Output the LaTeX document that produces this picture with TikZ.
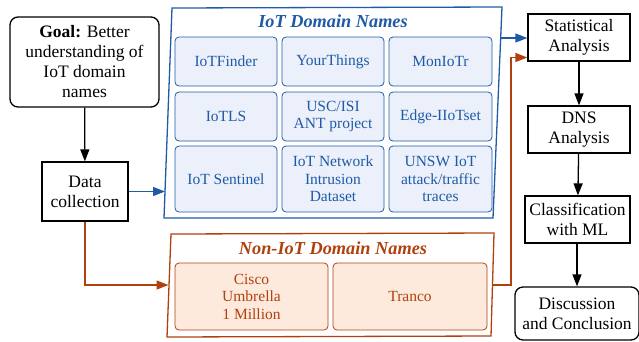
\documentclass[tikz,border=0pt]{standalone}
\usepackage{fontspec}
\setmainfont{Liberation Serif}
\usetikzlibrary{arrows.meta,calc}
\definecolor{iotblue}{HTML}{1F5AA6}
\definecolor{iotfill}{HTML}{EBF0FB}
\definecolor{nonorange}{HTML}{B0400E}
\definecolor{nonfill}{HTML}{FDEADC}
\begin{document}
\begin{tikzpicture}[x=1pt,y=-1pt,
  blk/.style={draw=black,line width=1.3pt,align=center,inner sep=0pt,font=\fontsize{17.5}{20}\selectfont},
  ibox/.style={draw=iotblue,fill=iotfill,line width=0.8pt,rounded corners=4pt,align=center,inner sep=0pt,text=iotblue,font=\fontsize{15.5}{17.5}\selectfont},
  obox/.style={draw=nonorange,fill=nonfill,line width=0.8pt,rounded corners=4pt,align=center,inner sep=0pt,text=nonorange,font=\fontsize{15.5}{17.5}\selectfont},
  ttl/.style={font=\fontsize{18.3}{20}\selectfont\bfseries\itshape},
  arr/.style={line width=1.3pt,-{Triangle[length=12pt,width=9pt]}},
]
\useasboundingbox (0,0) rectangle (639,341);

% left column
\node[blk,rounded corners=8pt,minimum width=149pt,minimum height=90pt] (goal) at (84.5,62) {\textbf{Goal:} Better\\understanding of\\IoT domain\\names};
\node[blk,minimum width=86pt,minimum height=59pt] (data) at (85,191.5) {Data\\collection};

% blue container
\coordinate (bTL) at (172,8);
\coordinate (bTR) at (502,7);
\coordinate (bBR) at (493,218);
\coordinate (bBL) at (164,218);
\draw[iotblue,line width=1.3pt] (bTL) -- (bTR) -- (bBR) -- (bBL) -- cycle;
\node[ttl,text=iotblue] (btitle) at (333,21) {IoT Domain Names};
\node[ibox,minimum width=102pt,minimum height=49pt] (b11) at (226,61.5) {IoTFinder};
\node[ibox,minimum width=102pt,minimum height=49pt] (b12) at (333,61.5) {YourThings};
\node[ibox,minimum width=103pt,minimum height=49pt] (b13) at (440.5,61.5) {MonIoTr};
\node[ibox,minimum width=102pt,minimum height=49pt] (b21) at (226,116.5) {IoTLS};
\node[ibox,minimum width=102pt,minimum height=49pt] (b22) at (333,116.5) {USC/ISI\\ANT project};
\node[ibox,minimum width=103pt,minimum height=49pt] (b23) at (440.5,116.5) {Edge-IIoTset};
\node[ibox,minimum width=102pt,minimum height=66pt] (b31) at (226,179) {IoT Sentinel};
\node[ibox,minimum width=102pt,minimum height=66pt] (b32) at (333,179) {IoT Network\\Intrusion\\Dataset};
\node[ibox,minimum width=103pt,minimum height=66pt] (b33) at (440.5,179) {UNSW IoT\\attack/traffic\\traces};

% orange container
\coordinate (oTL) at (171,234);
\coordinate (oTR) at (494,233);
\coordinate (oBR) at (491,336);
\coordinate (oBL) at (167,337);
\draw[nonorange,line width=1.3pt] (oTL) -- (oTR) -- (oBR) -- (oBL) -- cycle;
\node[ttl,text=nonorange] (otitle) at (333,248) {Non-IoT Domain Names};
\node[obox,minimum width=153pt,minimum height=67pt] (o1) at (251.5,296.5) {Cisco\\Umbrella\\1 Million};
\node[obox,minimum width=154pt,minimum height=67pt] (o2) at (410,296.5) {Tranco};

% right column
\node[blk,minimum width=102pt,minimum height=47pt] (stat) at (579,37.5) {Statistical\\Analysis};
\node[blk,minimum width=102pt,minimum height=47pt] (dns) at (579,129.5) {DNS\\Analysis};
\node[blk,minimum width=105pt,minimum height=47pt] (cls) at (577.5,219.5) {Classification\\with ML};
\node[blk,rounded corners=8pt,minimum width=124pt,minimum height=53pt] (disc) at (577,313.5) {Discussion\\and Conclusion};

% connectors
\draw[arr] (goal) -- (data);
\coordinate (bin) at (165,191.5);
\draw[arr,iotblue] (data.east) -- (bin);
\coordinate (oin) at (168.5,285);
\draw[arr,nonorange] (data.south) |- (oin);
\coordinate (bout) at (501,38);
\draw[arr,iotblue] (bout) -- (bout -| stat.west);
\coordinate (oout) at (492.5,285);
\coordinate (ostat) at ($(stat.west)+(0,20)$);
\draw[arr,nonorange] (oout) -- (511,285) |- (ostat);
\draw[arr] (stat) -- (dns);
\draw[arr] (dns) -- (cls);
\draw[arr] (cls.south -| disc.north) -- (disc);
\end{tikzpicture}
\end{document}
